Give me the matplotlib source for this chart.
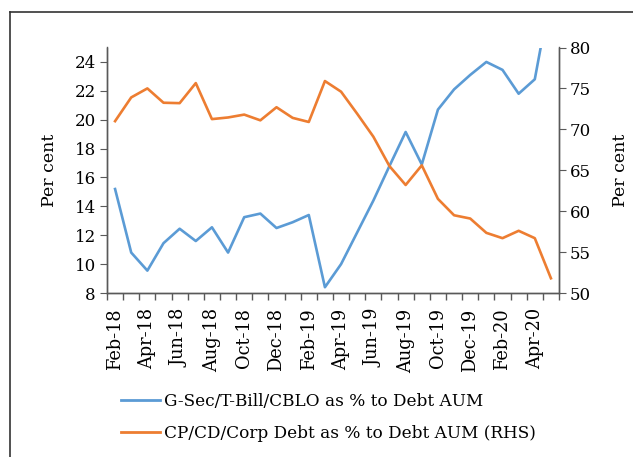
import matplotlib
matplotlib.use("Agg")
import matplotlib.pyplot as plt
from matplotlib.lines import Line2D

# monthly data, Feb-18 .. May-20
months = ['Feb-18', 'Mar-18', 'Apr-18', 'May-18', 'Jun-18', 'Jul-18', 'Aug-18',
          'Sep-18', 'Oct-18', 'Nov-18', 'Dec-18', 'Jan-19', 'Feb-19', 'Mar-19',
          'Apr-19', 'May-19', 'Jun-19', 'Jul-19', 'Aug-19', 'Sep-19', 'Oct-19',
          'Nov-19', 'Dec-19', 'Jan-20', 'Feb-20', 'Mar-20', 'Apr-20', 'May-20']
gsec = [15.2, 10.8, 9.55, 11.45, 12.45, 11.6, 12.55, 10.8, 13.25, 13.5, 12.5, 12.9,
        13.4, 8.4, 10.0, 12.2, 14.4, 16.8, 19.15, 16.9, 20.7, 22.1, 23.1, 24.0,
        23.45, 21.8, 22.8, 28.8]
corp = [71.0, 73.9, 75.0, 73.25, 73.2, 75.65, 71.25, 71.45, 71.8, 71.1, 72.7, 71.4,
        70.9, 75.9, 74.6, 71.9, 69.1, 65.5, 63.2, 65.6, 61.5, 59.5, 59.1, 57.35,
        56.7, 57.6, 56.7, 51.8]

blue = '#5B9BD5'
orange = '#ED7D31'
grey = '#595959'
plt.rcParams['font.family'] = 'DejaVu Serif'

fig = plt.figure(figsize=(6.33, 4.57), dpi=100)
ax = fig.add_axes([107/633, 1-293/457, 452/633, 245.5/457])
ax2 = ax.twinx()

x = list(range(len(months)))
ax.plot(x, gsec, color=blue, lw=1.9)
ax2.plot(x, corp, color=orange, lw=1.9)

ax.set_xlim(-0.5, len(months) - 0.5)
ax.set_ylim(8, 25)
ax2.set_ylim(50, 80)
ax.set_yticks(range(8, 25, 2))
ax2.set_yticks(range(50, 81, 5))

# category ticks between months, labels every other month
ax.set_xticks([i - 0.5 for i in range(len(months) + 1)])
ax.set_xticklabels([])
ax.set_xticks(x[::2], minor=True)
ax.set_xticklabels(months[::2], minor=True, rotation=90, fontsize=12.8)
ax.tick_params(axis='x', which='minor', length=0, pad=11)
ax.tick_params(axis='x', which='major', length=5, color=grey, width=1)

for a in (ax, ax2):
    a.spines['top'].set_visible(False)
    for s in ('left', 'right', 'bottom'):
        a.spines[s].set_color(grey)
        a.spines[s].set_linewidth(1)
    a.tick_params(axis='y', length=5, color=grey, labelsize=12, pad=3)

ax.set_ylabel('Per cent', fontsize=12.5, labelpad=12)
ax2.set_ylabel('Per cent', fontsize=12.5, labelpad=15)

handles = [Line2D([], [], color=blue, lw=2),
           Line2D([], [], color=orange, lw=2)]
fig.legend(handles, ['G-Sec/T-Bill/CBLO as % to Debt AUM',
                     'CP/CD/Corp Debt as % to Debt AUM (RHS)'],
           loc='upper left', bbox_to_anchor=(106/633, 1-378/457), frameon=False,
           fontsize=12.2, handlelength=2.3, handletextpad=0.25, labelspacing=0.88)

# outer frame (cropped at the right and bottom)
fig.add_artist(Line2D([10/633, 10/633], [0, 1-12/457], color='#333333', lw=1.2,
                      transform=fig.transFigure))
fig.add_artist(Line2D([10/633, 1], [1-12/457, 1-12/457], color='#333333', lw=1.2,
                      transform=fig.transFigure))

fig.savefig('out.png', dpi=100)
